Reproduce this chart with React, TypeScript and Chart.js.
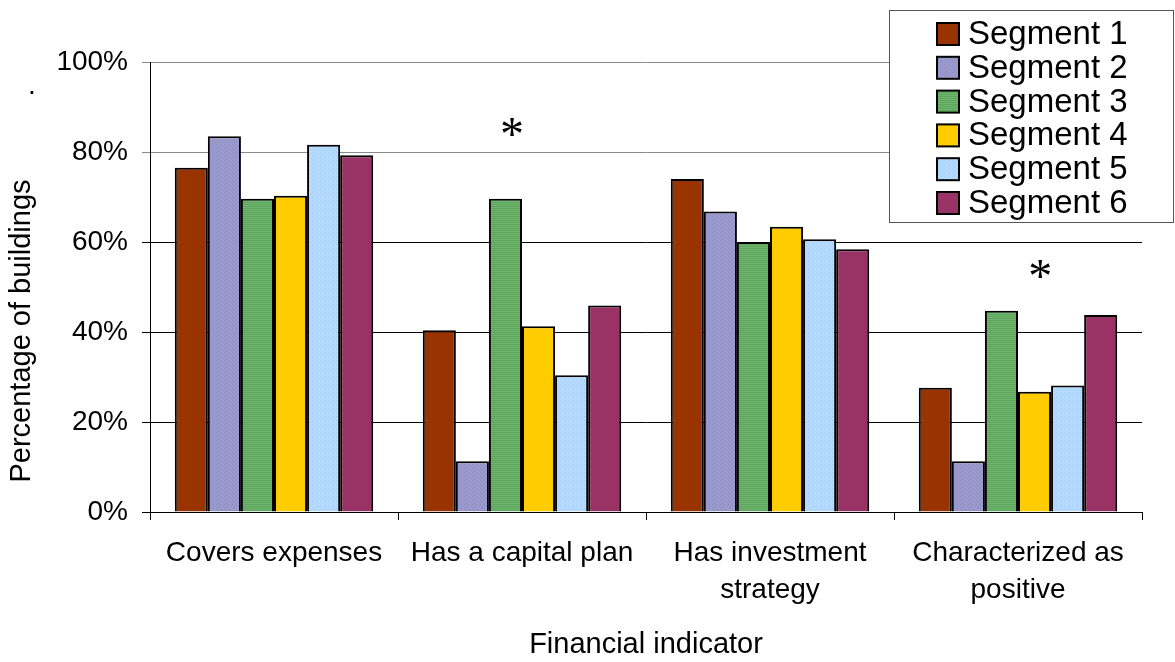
import { useEffect, useRef } from 'react';
import { Chart, registerables } from 'chart.js';

Chart.register(...registerables);

// ---------- data ----------
const categories: string[][] = [
  ['Covers expenses'],
  ['Has a capital plan'],
  ['Has investment', 'strategy'],
  ['Characterized as', 'positive'],
];
const segmentNames = ['Segment 1', 'Segment 2', 'Segment 3', 'Segment 4', 'Segment 5', 'Segment 6'];
const segment1 = [76.5, 40.4, 74.0, 27.6];
const segment2 = [83.5, 11.3, 66.8, 11.3];
const segment3 = [69.6, 69.6, 60.0, 44.7];
const segment4 = [70.3, 41.3, 63.4, 26.7];
const segment5 = [81.6, 30.4, 60.6, 28.1];
const segment6 = [79.3, 45.9, 58.4, 43.8];
const yTickValues = [0, 20, 40, 60, 80, 100];
const yTitle = 'Percentage of buildings';
const xTitle = 'Financial indicator';
// significance markers: position along category axis and value axis
const asteriskCategory = [0.96, 3.09];
const asteriskValue = [85.6, 54.0];
const strayDotValue = 93.3;

const FONT = '"Liberation Sans", Arial, sans-serif';

function makePattern(kind: string): CanvasPattern | string {
  const c = document.createElement('canvas');
  c.width = 4;
  c.height = 4;
  const g = c.getContext('2d');
  if (!g) return '#888';
  if (kind === 'purple') {
    g.fillStyle = '#9999CC';
    g.fillRect(0, 0, 4, 4);
    g.fillStyle = '#8C8CC2';
    g.fillRect(0, 0, 1, 1);
    g.fillRect(2, 2, 1, 1);
  } else if (kind === 'green') {
    g.fillStyle = '#6DB46D';
    g.fillRect(0, 0, 4, 4);
    g.fillStyle = '#5EA55E';
    g.fillRect(0, 0, 4, 1);
    g.fillRect(0, 2, 4, 1);
  } else if (kind === 'blue') {
    g.fillStyle = '#B5DAFF';
    g.fillRect(0, 0, 4, 4);
    g.fillStyle = '#A2CBF4';
    g.fillRect(0, 0, 1, 1);
    g.fillRect(2, 2, 1, 1);
  }
  const p = g.createPattern(c, 'repeat');
  return p || '#888';
}

const annotationPlugin = {
  id: 'annotations',
  afterDraw(chart: any) {
    const ctx = chart.ctx as CanvasRenderingContext2D;
    const xs = chart.scales.x;
    const ys = chart.scales.y;
    const area = chart.chartArea;

    // asterisks
    ctx.save();
    ctx.fillStyle = '#000';
    ctx.font = '48px "Liberation Serif", "Times New Roman", serif';
    ctx.textAlign = 'center';
    ctx.textBaseline = 'alphabetic';
    asteriskCategory.forEach((c, i) => {
      const px = xs.getPixelForValue(c);
      const py = ys.getPixelForValue(asteriskValue[i]);
      const m = ctx.measureText('*');
      const off = (m.actualBoundingBoxAscent - m.actualBoundingBoxDescent) / 2;
      ctx.fillText('*', px, py + off);
    });
    ctx.restore();

    // stray dot near the y axis
    ctx.save();
    ctx.fillStyle = '#000';
    ctx.font = '28px ' + FONT;
    ctx.textAlign = 'center';
    ctx.textBaseline = 'alphabetic';
    {
      const m = ctx.measureText('.');
      const off = (m.actualBoundingBoxAscent - m.actualBoundingBoxDescent) / 2;
      ctx.fillText('.', area.left - 118, ys.getPixelForValue(strayDotValue) + off);
    }
    ctx.restore();

    // y axis title (centered on plot + category labels, like the original)
    ctx.save();
    ctx.fillStyle = '#000';
    ctx.font = '29px ' + FONT;
    ctx.textAlign = 'center';
    ctx.textBaseline = 'middle';
    ctx.translate(22, (area.top + area.bottom + 88) / 2);
    ctx.rotate(-Math.PI / 2);
    ctx.fillText(yTitle, 0, 0);
    ctx.restore();

    // legend box
    ctx.save();
    const bx = 889.5;
    const by = 10.5;
    const bw = 284;
    const bh = 212;
    ctx.fillStyle = '#fff';
    ctx.fillRect(bx, by, bw, bh);
    ctx.strokeStyle = '#555';
    ctx.lineWidth = 1;
    ctx.strokeRect(bx, by, bw, bh);
    ctx.font = '33px ' + FONT;
    ctx.textAlign = 'left';
    ctx.textBaseline = 'middle';
    chart.data.datasets.forEach((ds: any, i: number) => {
      const cy = 34 + i * 33.8;
      ctx.fillStyle = ds.backgroundColor;
      ctx.fillRect(937, cy - 11, 22, 22);
      ctx.strokeStyle = '#000';
      ctx.lineWidth = 2;
      ctx.strokeRect(937, cy - 11, 22, 22);
      ctx.fillStyle = '#000';
      ctx.fillText(ds.label, 968, cy + 1);
    });
    ctx.restore();
  },
};

export default function App() {
  const ref = useRef<HTMLCanvasElement | null>(null);

  useEffect(() => {
    if (!ref.current) return;
    const fills = [
      '#993300',
      makePattern('purple'),
      makePattern('green'),
      '#FFCC00',
      makePattern('blue'),
      '#993366',
    ];
    const series = [segment1, segment2, segment3, segment4, segment5, segment6];
    const chart = new Chart(ref.current, {
      type: 'bar',
      data: {
        labels: categories,
        datasets: series.map((s, i) => ({
          label: segmentNames[i],
          data: s,
          backgroundColor: fills[i] as any,
          borderColor: '#000',
          borderWidth: 2,
          categoryPercentage: 0.8,
          barPercentage: 1.0,
        })),
      },
      options: {
        responsive: false,
        devicePixelRatio: 1,
        animation: false,
        layout: { padding: { left: 0, right: 33, top: 62, bottom: 0 } },
        plugins: {
          legend: { display: false },
          tooltip: { enabled: false },
        },
        scales: {
          x: {
            grid: {
              display: true,
              drawOnChartArea: false,
              drawTicks: true,
              tickLength: 8,
              color: '#000',
              offset: true,
            },
            border: { color: '#000', width: 1 },
            ticks: {
              color: '#000',
              font: { family: FONT, size: 28, lineHeight: 1.32 },
              padding: 15,
              autoSkip: false,
              maxRotation: 0,
              minRotation: 0,
            },
            title: {
              display: true,
              text: xTitle,
              color: '#000',
              font: { family: FONT, size: 29 },
              padding: { top: 0, bottom: 0 },
            },
            afterFit(scale: any) {
              scale.height = 150;
            },
          },
          y: {
            min: 0,
            max: 100,
            afterBuildTicks(scale: any) {
              scale.ticks = yTickValues.map((v) => ({ value: v }));
            },
            grid: {
              color: (c: any) => (c.tick && c.tick.value >= 80 ? '#8a8a8a' : '#000'),
              tickLength: 8,
              lineWidth: 1,
            },
            border: { color: '#000', width: 1 },
            ticks: {
              color: '#000',
              font: { family: FONT, size: 28 },
              padding: 14,
              callback: (v: any) => v + '%',
            },
            afterFit(scale: any) {
              scale.width = 150;
            },
          },
        },
      },
      plugins: [annotationPlugin],
    });
    return () => chart.destroy();
  }, []);

  return (
    <div style={{ position: 'fixed', left: 0, top: 0, width: 1175, height: 662, background: '#fff' }}>
      <canvas ref={ref} width={1175} height={662} style={{ display: 'block' }} />
    </div>
  );
}
